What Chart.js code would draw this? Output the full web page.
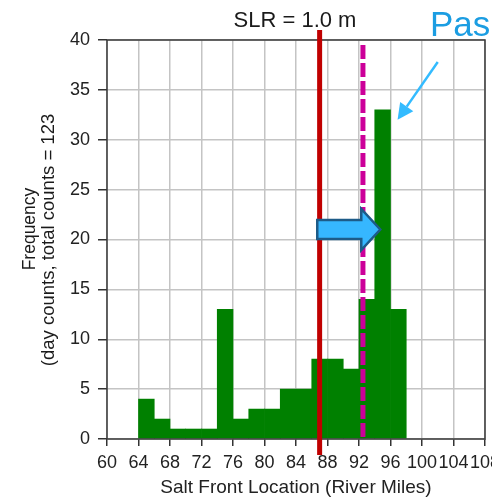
<!DOCTYPE html>
<html>
<head>
<meta charset="utf-8">
<script src="https://cdn.jsdelivr.net/npm/chart.js@4/dist/chart.umd.min.js"></script>
<style>
  html, body { margin: 0; padding: 0; background: #fff; }
  #wrap { width: 492px; height: 499px; }
</style>
</head>
<body>
<div id="wrap"><canvas id="c" width="492" height="499"></canvas></div>
<script>
// Salt front location histogram (2-mile bins)
const binStarts = [64, 66, 68, 70, 72, 74, 76, 78, 80, 82, 84, 86, 88, 90, 92, 94, 96];
const binWidth = 2;
const dayCounts = [4, 2, 1, 1, 1, 13, 2, 3, 3, 5, 5, 8, 8, 7, 14, 33, 13];
const xTickValues = [60, 64, 68, 72, 76, 80, 84, 88, 92, 96, 100, 104, 108];
const yTickValues = [0, 5, 10, 15, 20, 25, 30, 35, 40];

// Reference lines (river miles)
const slrLocation = 87;      // SLR = 1.0 m
const baseLocation = 92.5;   // dashed line

// Shift arrow and pointer (data units)
const shiftArrow = { from: 86.7, to: 94.7, level: 21 };
const pointer = { fromX: 102, fromY: 37.8, toX: 96.9, toY: 32 };

const FONT = "'Liberation Sans', Arial, sans-serif";

const histData = binStarts.map((s, i) => ({ x: s + binWidth / 2, y: dayCounts[i] }));

const overlay = {
  id: 'overlay',
  afterDraw(chart) {
    const { ctx, chartArea: a, scales: { x, y } } = chart;
    ctx.save();

    // plot frame
    ctx.strokeStyle = '#3a3a3a';
    ctx.lineWidth = 1.5;
    ctx.strokeRect(a.left, a.top, a.right - a.left, a.bottom - a.top);

    // dashed line
    const bx = x.getPixelForValue(baseLocation);
    ctx.strokeStyle = '#CC0099';
    ctx.lineWidth = 5;
    ctx.setLineDash([14, 4]);
    ctx.beginPath();
    ctx.moveTo(bx, a.top + 5);
    ctx.lineTo(bx, a.bottom);
    ctx.stroke();
    ctx.setLineDash([]);

    // SLR line
    const rx = x.getPixelForValue(slrLocation);
    ctx.strokeStyle = '#C00000';
    ctx.lineWidth = 5;
    ctx.beginPath();
    ctx.moveTo(rx, a.top - 10);
    ctx.lineTo(rx, a.bottom + 16);
    ctx.stroke();

    // block arrow
    const x0 = x.getPixelForValue(shiftArrow.from);
    const x1 = x.getPixelForValue(shiftArrow.to);
    const yc = y.getPixelForValue(shiftArrow.level);
    const headLen = 19, shaftH = 9.5, headH = 20.5;
    ctx.beginPath();
    ctx.moveTo(x0, yc - shaftH);
    ctx.lineTo(x1 - headLen, yc - shaftH);
    ctx.lineTo(x1 - headLen, yc - headH);
    ctx.lineTo(x1, yc);
    ctx.lineTo(x1 - headLen, yc + headH);
    ctx.lineTo(x1 - headLen, yc + shaftH);
    ctx.lineTo(x0, yc + shaftH);
    ctx.closePath();
    ctx.fillStyle = '#36B7FF';
    ctx.fill();
    ctx.strokeStyle = '#1D5B88';
    ctx.lineWidth = 2.5;
    ctx.lineJoin = 'miter';
    ctx.stroke();

    // thin pointer arrow
    const px0 = x.getPixelForValue(pointer.fromX), py0 = y.getPixelForValue(pointer.fromY);
    const px1 = x.getPixelForValue(pointer.toX), py1 = y.getPixelForValue(pointer.toY);
    const ang = Math.atan2(py1 - py0, px1 - px0);
    const hl = 16, hw = 8;
    const bxp = px1 - hl * Math.cos(ang), byp = py1 - hl * Math.sin(ang);
    ctx.strokeStyle = '#33BBFF';
    ctx.fillStyle = '#33BBFF';
    ctx.lineWidth = 2.5;
    ctx.beginPath();
    ctx.moveTo(px0, py0);
    ctx.lineTo(bxp, byp);
    ctx.stroke();
    ctx.beginPath();
    ctx.moveTo(px1, py1);
    ctx.lineTo(bxp + hw * Math.sin(ang), byp - hw * Math.cos(ang));
    ctx.lineTo(bxp - hw * Math.sin(ang), byp + hw * Math.cos(ang));
    ctx.closePath();
    ctx.fill();

    // texts
    ctx.fillStyle = '#1a1a1a';
    ctx.font = '22px ' + FONT;
    ctx.textAlign = 'center';
    ctx.textBaseline = 'alphabetic';
    ctx.fillText('SLR = 1.0 m', 295, 27);

    ctx.fillStyle = '#1B9DE2';
    ctx.font = '35px ' + FONT;
    ctx.textAlign = 'left';
    ctx.fillText('Pas', 430, 36);

    // y axis title (two lines)
    ctx.fillStyle = '#1a1a1a';
    ctx.textAlign = 'center';
    ctx.textBaseline = 'middle';
    ctx.save();
    ctx.translate(30, 229);
    ctx.rotate(-Math.PI / 2);
    ctx.font = '17.5px ' + FONT;
    ctx.fillText('Frequency', 0, 0);
    ctx.restore();
    ctx.save();
    ctx.translate(49, 240);
    ctx.rotate(-Math.PI / 2);
    ctx.font = '18.5px ' + FONT;
    ctx.fillText('(day counts, total counts = 123', 0, 0);
    ctx.restore();

    ctx.restore();
  }
};

new Chart(document.getElementById('c'), {
  type: 'bar',
  data: {
    datasets: [{
      data: histData,
      backgroundColor: '#008000',
      borderWidth: 0,
      barPercentage: 1,
      categoryPercentage: 1
    }]
  },
  options: {
    responsive: false,
    animation: false,
    devicePixelRatio: 1,
    layout: { padding: { top: 40, right: 7, left: 0, bottom: 0 } },
    plugins: { legend: { display: false }, tooltip: { enabled: false } },
    scales: {
      x: {
        type: 'linear',
        min: 60, max: 108,
        offset: false,
        z: 1,
        afterBuildTicks(s) { s.ticks = xTickValues.map(v => ({ value: v })); },
        afterFit(s) { s.height = 60; s.paddingLeft = 0; s.paddingRight = 0; },
        grid: { offset: false, color: '#c4c4c4', lineWidth: 1.5, tickColor: '#333', tickLength: 7 },
        border: { display: false },
        ticks: {
          autoSkip: false, maxRotation: 0, minRotation: 0,
          color: '#222', font: { family: FONT, size: 18 }, padding: 6
        },
        title: {
          display: true, text: 'Salt Front Location (River Miles)',
          color: '#222', font: { family: FONT, size: 19 }, padding: { top: 0, bottom: 0 }
        }
      },
      y: {
        min: 0, max: 40,
        z: 1,
        afterBuildTicks(s) { s.ticks = yTickValues.map(v => ({ value: v })); },
        afterFit(s) { s.width = 107; },
        grid: { color: '#c4c4c4', lineWidth: 1.5, tickColor: '#333', tickLength: 9 },
        border: { display: false },
        ticks: { color: '#222', font: { family: FONT, size: 18 }, padding: 8 }
      }
    }
  },
  plugins: [overlay]
});
</script>
</body>
</html>
